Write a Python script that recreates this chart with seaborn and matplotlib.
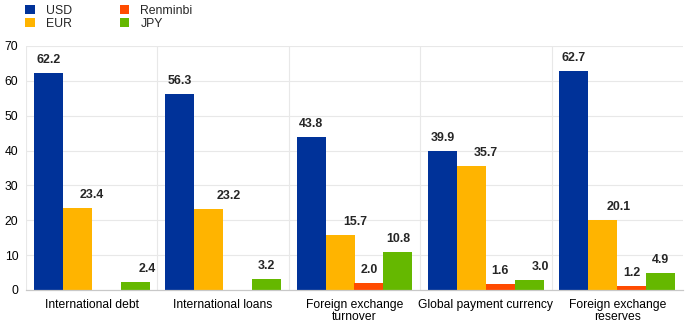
import matplotlib
matplotlib.use("Agg")
import matplotlib.pyplot as plt
import seaborn as sns
import pandas as pd
import numpy as np
from matplotlib.patches import Patch

categories = ["International debt", "International loans", "Foreign exchange\nturnover",
              "Global payment currency", "Foreign exchange\nreserves"]
currencies = ["USD", "EUR", "Renminbi", "JPY"]
usd = [62.2, 56.3, 43.8, 39.9, 62.7]
eur = [23.4, 23.2, 15.7, 35.7, 20.1]
rmb = [np.nan, np.nan, 2.0, 1.6, 1.2]
jpy = [2.4, 3.2, 10.8, 3.0, 4.9]
yticks = [0, 10, 20, 30, 40, 50, 60, 70]

colors = {"USD": "#003299", "EUR": "#FFB400", "Renminbi": "#FF4B00", "JPY": "#65B800"}

# label horizontal nudges (pixels) as in the reference layout
label_nudge = {
    "USD": [0, 0, 0, 0, 0],
    "EUR": [15, 20, 15, 14, 16],
    "Renminbi": [0, 0, 0, 0, 0],
    "JPY": [12, 0, 0, 11, 0],
}

rows = []
for cur, vals in zip(currencies, [usd, eur, rmb, jpy]):
    for cat, v in zip(categories, vals):
        rows.append({"category": cat, "currency": cur, "value": v})
df = pd.DataFrame(rows)

sns.set_style("white")
plt.rcParams["font.family"] = ["Liberation Sans", "DejaVu Sans"]

fig = plt.figure(figsize=(6.93, 3.29), dpi=100)
ax = fig.add_axes([26 / 693, 39 / 329, (683 - 26) / 693, (290 - 46) / 329])

sns.barplot(data=df, x="category", y="value", hue="currency", order=categories,
            hue_order=currencies, palette=colors, saturation=1, width=0.88, linewidth=0,
            errorbar=None, ax=ax, legend=False, zorder=3)

ax.set_ylim(0, 70)
ax.set_xlim(-0.5, len(categories) - 0.5)
ax.set_yticks(yticks)
ax.set_yticklabels([str(t) for t in yticks])
ax.set_xlabel("")
ax.set_ylabel("")

grid_c = "#e8e8e8"
for t in yticks[1:]:
    ax.axhline(t, color=grid_c, lw=0.8, zorder=1)
for i in range(len(categories)):
    ax.axvline(i - 0.5, color=grid_c, lw=0.8, zorder=1)

for s in ["top", "right", "left"]:
    ax.spines[s].set_visible(False)
ax.spines["bottom"].set_color("#c8c8c8")
ax.spines["bottom"].set_linewidth(0.9)
ax.spines["bottom"].set_zorder(4)

ax.tick_params(axis="both", length=0, labelsize=8.7, colors="black")
ax.tick_params(axis="y", pad=5.5)
ax.tick_params(axis="x", pad=6.5)
for lbl in ax.get_xticklabels():
    lbl.set_linespacing(1.05)

for cur, cont in zip(currencies, ax.containers):
    for bar in cont:
        h = bar.get_height()
        if np.isnan(h):
            continue
        xc = bar.get_x() + bar.get_width() / 2
        idx = int(round(xc))
        dx = label_nudge[cur][idx] * 0.72
        ax.annotate(f"{h:.1f}", (xc, h), xytext=(dx, 7.2), textcoords="offset points",
                    ha="center", va="baseline", fontsize=8.9, fontweight="bold", zorder=5)

handles = [Patch(facecolor=colors[c], edgecolor="none", label=c) for c in currencies]
fig.legend(handles=handles, loc="upper left", bbox_to_anchor=(25 / 693, 1 - 5 / 329),
           ncol=2, frameon=False, fontsize=8.8, handlelength=0.8, handleheight=0.8,
           handletextpad=0.9, columnspacing=3.9, labelspacing=0.05, borderpad=0,
           borderaxespad=0)

fig.savefig("out.png", dpi=100)
